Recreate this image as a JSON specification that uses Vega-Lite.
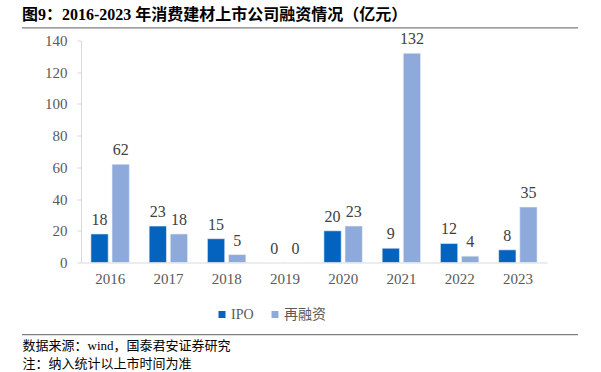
{
  "$schema": "https://vega.github.io/schema/vega-lite/v6.json",
  "autosize": {"type": "none"},
  "width": 466,
  "height": 222,
  "padding": {"left": 81, "top": 40.5, "right": 54, "bottom": 109.5},
  "background": "white",
  "config": {
    "view": {"stroke": null},
    "font": "Liberation Serif, Noto Sans CJK SC"
  },
  "title": {
    "text": "图9：2016-2023 年消费建材上市公司融资情况（亿元）",
    "anchor": "start",
    "frame": "group",
    "font": "Liberation Serif, Noto Sans CJK SC",
    "fontSize": 16,
    "fontWeight": "bold",
    "color": "#000000",
    "dx": -59,
    "dy": 29,
    "offset": 17,
    "baseline": "bottom"
  },
  "data": {
    "values": [
      {"year": "2016", "type": "IPO", "value": 18},
      {"year": "2016", "type": "再融资", "value": 62},
      {"year": "2017", "type": "IPO", "value": 23},
      {"year": "2017", "type": "再融资", "value": 18},
      {"year": "2018", "type": "IPO", "value": 15},
      {"year": "2018", "type": "再融资", "value": 5},
      {"year": "2019", "type": "IPO", "value": 0},
      {"year": "2019", "type": "再融资", "value": 0},
      {"year": "2020", "type": "IPO", "value": 20},
      {"year": "2020", "type": "再融资", "value": 23},
      {"year": "2021", "type": "IPO", "value": 9},
      {"year": "2021", "type": "再融资", "value": 132},
      {"year": "2022", "type": "IPO", "value": 12},
      {"year": "2022", "type": "再融资", "value": 4},
      {"year": "2023", "type": "IPO", "value": 8},
      {"year": "2023", "type": "再融资", "value": 35}
    ]
  },
  "encoding": {
    "x": {
      "field": "year",
      "type": "nominal",
      "scale": {"paddingInner": 0.34, "paddingOuter": 0.17},
      "axis": {
        "labelAngle": 0,
        "labelFont": "Liberation Serif",
        "labelFontSize": 15,
        "labelColor": "#595959",
        "labelPadding": 9,
        "ticks": false,
        "domainColor": "#d9d9d9",
        "domainWidth": 1,
        "title": ["数据来源：wind，国泰君安证券研究", "注：纳入统计以上市时间为准"],
        "titleFont": "Liberation Serif, Noto Sans CJK SC",
        "titleFontSize": 13,
        "titleFontWeight": "normal",
        "titleColor": "#000000",
        "titleAnchor": "start",
        "titleAlign": "left",
        "titleBaseline": "top",
        "titleLineHeight": 18,
        "titleX": -59,
        "titleY": 77
      }
    },
    "xOffset": {"field": "type", "type": "nominal", "scale": {"paddingInner": 0.18}},
    "y": {
      "field": "value",
      "type": "quantitative",
      "scale": {"domain": [0, 140]},
      "axis": {
        "values": [0, 20, 40, 60, 80, 100, 120, 140],
        "grid": false,
        "labelFont": "Liberation Serif",
        "labelFontSize": 15,
        "labelColor": "#595959",
        "labelPadding": 10,
        "tickSize": 4,
        "tickColor": "#d9d9d9",
        "domainColor": "#d9d9d9",
        "title": null
      }
    }
  },
  "layer": [
    {
      "mark": {"type": "bar", "stroke": "#f2f2f2", "strokeWidth": 0.6},
      "encoding": {
        "color": {
          "field": "type",
          "type": "nominal",
          "scale": {"domain": ["IPO", "再融资"], "range": ["#0563c0", "#8eaadb"]},
          "legend": {
            "title": null,
            "orient": "none",
            "direction": "horizontal",
            "legendX": 134,
            "legendY": 267,
            "symbolType": "square",
            "symbolSize": 49,
            "symbolStrokeWidth": 0,
            "labelFont": "Liberation Serif, Noto Sans CJK SC",
            "labelFontSize": 14,
            "labelColor": "#595959",
            "labelOffset": 2,
            "columnPadding": 14
          }
        }
      }
    },
    {
      "mark": {"type": "text", "baseline": "bottom", "dy": -6, "font": "Liberation Serif", "fontSize": 16, "color": "#404040"},
      "encoding": {"text": {"field": "value", "type": "quantitative"}}
    },
    {
      "data": {"values": [{"pos": -45.5}]},
      "mark": {"type": "rule", "color": "#7f7f7f", "strokeWidth": 1.2, "clip": false},
      "encoding": {
        "y": {"field": "pos", "type": "quantitative"},
        "x": {"value": -59},
        "x2": {"value": 497},
        "xOffset": null
      }
    },
    {
      "data": {"values": [{"line": "top"}]},
      "mark": {"type": "rule", "color": "#7f7f7f", "strokeWidth": 1.2, "clip": false},
      "encoding": {
        "y": {"value": -12.7},
        "x": {"value": -59},
        "x2": {"value": 497},
        "xOffset": null
      }
    }
  ]
}
